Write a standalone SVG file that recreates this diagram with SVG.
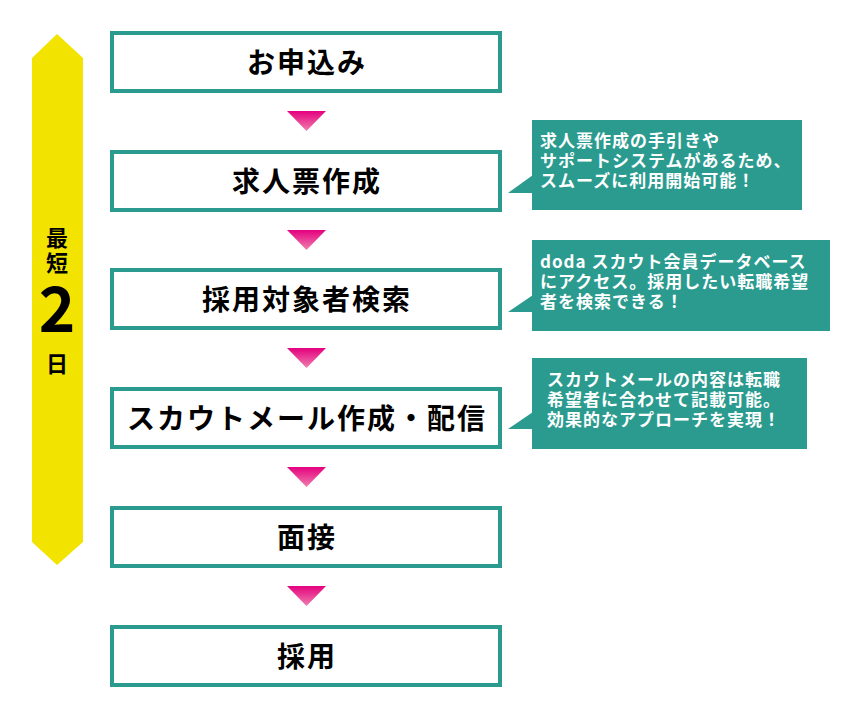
<svg xmlns="http://www.w3.org/2000/svg" width="862" height="717" viewBox="0 0 862 717">
<style>
.box{fill:#fff;stroke:#2b9b8f;stroke-width:4}
.lbl{font-family:"Noto Sans CJK JP","Noto Sans",sans-serif;font-weight:bold;font-size:28px;letter-spacing:2px;fill:#000;text-anchor:middle}
.co{fill:#2b9b8f}
.cot{font-family:"Noto Sans CJK JP","Noto Sans",sans-serif;font-weight:bold;font-size:17px;letter-spacing:1px;fill:#fff}
.yt{font-family:"Noto Sans CJK JP","Noto Sans",sans-serif;font-weight:bold;fill:#000;text-anchor:middle}
.tri{fill:url(#pg)}
</style>
<defs>
<linearGradient id="pg" x1="0" y1="0" x2="0" y2="1">
<stop offset="0" stop-color="#e4007f"/>
<stop offset="1" stop-color="#f07fae"/>
</linearGradient>
</defs>
<rect width="862" height="717" fill="#fff"/>
<g id="period">
<polygon points="57,34 83,58 83,542 57,565 32,542 32,58" fill="#f3e300"/>
<text class="yt" x="57" y="246" font-size="22">最</text>
<text class="yt" x="57" y="271" font-size="22">短</text>
<text class="yt" x="57" y="332" font-size="62" font-family="'Noto Sans',sans-serif">2</text>
<text class="yt" x="57" y="372" font-size="22">日</text>
</g>
<g id="connectors">
<polygon class="tri" points="287,111 326,111 306.5,131"/>
<polygon class="tri" points="287,230 326,230 306.5,250"/>
<polygon class="tri" points="287,348 326,348 306.5,368"/>
<polygon class="tri" points="287,467 326,467 306.5,487"/>
<polygon class="tri" points="287,586 326,586 306.5,606"/>
</g>
<g id="step1"><rect class="box" x="112" y="33" width="388" height="58"/><text class="lbl" x="307" y="73">お申込み</text></g>
<g id="step2"><rect class="box" x="112" y="152" width="388" height="58"/><text class="lbl" x="307" y="192">求人票作成</text></g>
<g id="step3"><rect class="box" x="112" y="270" width="388" height="58"/><text class="lbl" x="307" y="310">採用対象者検索</text></g>
<g id="step4"><rect class="box" x="112" y="389" width="388" height="58"/><text class="lbl" x="307" y="429">スカウトメール作成・配信</text></g>
<g id="step5"><rect class="box" x="112" y="508" width="388" height="58"/><text class="lbl" x="307" y="548">面接</text></g>
<g id="step6"><rect class="box" x="112" y="627" width="388" height="58"/><text class="lbl" x="307" y="667">採用</text></g>
<g id="note1">
<rect class="co" x="532" y="120" width="270" height="90"/>
<polygon class="co" points="533,175 508,193 533,193"/>
<text class="cot" x="540" y="147">求人票作成の手引きや</text>
<text class="cot" x="540" y="167">サポートシステムがあるため、</text>
<text class="cot" x="540" y="187">スムーズに利用開始可能！</text>
</g>
<g id="note2">
<rect class="co" x="532" y="240" width="298" height="91"/>
<polygon class="co" points="533,295 508,312 533,312"/>
<text class="cot" x="540" y="268">doda スカウト会員データベース</text>
<text class="cot" x="540" y="288">にアクセス。採用したい転職希望</text>
<text class="cot" x="540" y="308">者を検索できる！</text>
</g>
<g id="note3">
<rect class="co" x="532" y="358" width="275" height="91"/>
<polygon class="co" points="533,412 508,429 533,429"/>
<text class="cot" x="547" y="386">スカウトメールの内容は転職</text>
<text class="cot" x="547" y="406">希望者に合わせて記載可能。</text>
<text class="cot" x="547" y="426">効果的なアプローチを実現！</text>
</g>
</svg>
